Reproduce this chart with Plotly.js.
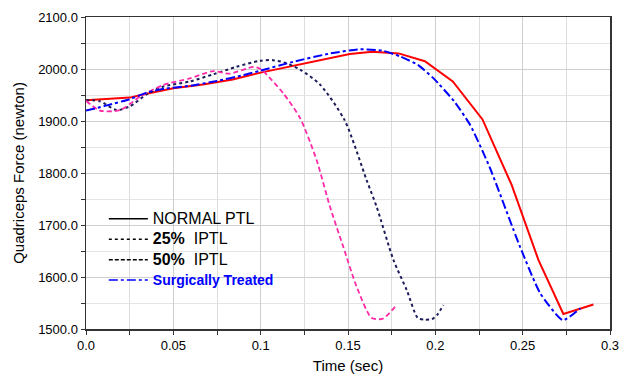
<!DOCTYPE html>
<html>
<head>
<meta charset="utf-8">
<script src="https://cdn.plot.ly/plotly-3.0.1.min.js"></script>
<style>html,body{margin:0;padding:0;background:#fff}#chart{width:628px;height:374px}</style>
</head>
<body>
<div id="chart"></div>
<script>
// NORMAL PTL (red solid)
var normalT = [0, 0.017, 0.025, 0.034, 0.05, 0.067, 0.084, 0.1, 0.117, 0.134, 0.151, 0.164, 0.179, 0.194, 0.210, 0.227, 0.2437, 0.259, 0.2733, 0.2905];
var normalF = [1940, 1943, 1945, 1952, 1963, 1970, 1980, 1993, 2005, 2018, 2029, 2033, 2030, 2015, 1976, 1903, 1777, 1633, 1529, 1547];
// 25% IPTL (navy dotted)
var p25T = [0, 0.008, 0.0175, 0.025, 0.035, 0.044, 0.0595, 0.073, 0.086, 0.0996, 0.107, 0.114, 0.1225, 0.134, 0.148, 0.1607, 0.1664, 0.176, 0.1836, 0.19, 0.194, 0.198, 0.201, 0.2046];
var p25F = [1940, 1938, 1921, 1928, 1952, 1966, 1976, 1990, 2004, 2016, 2017, 2012, 1999, 1970, 1902, 1786, 1735, 1633, 1575, 1521, 1518, 1519, 1527, 1546];
// 50% IPTL (pink dashed)
var p50T = [0, 0.008, 0.0195, 0.031, 0.044, 0.0595, 0.073, 0.082, 0.096, 0.1, 0.106, 0.113, 0.1225, 0.132, 0.1397, 0.1473, 0.155, 0.1636, 0.170, 0.177];
var p50F = [1939, 1920, 1921, 1947, 1969, 1982, 1996, 1991, 2004, 2000, 1980, 1953, 1906, 1825, 1735, 1658, 1581, 1521, 1520, 1543];
// Surgically Treated (blue dash-dot)
var surgT = [0, 0.012, 0.025, 0.035, 0.045, 0.06, 0.075, 0.09, 0.1, 0.12, 0.14, 0.157, 0.17, 0.18, 0.19, 0.199, 0.211, 0.22, 0.231, 0.2485, 0.26, 0.273, 0.283];
var surgF = [1920, 1930, 1942, 1955, 1962, 1968, 1977, 1988, 1997, 2015, 2030, 2038, 2035, 2024, 2008, 1982, 1937, 1892, 1812, 1658, 1569, 1517, 1540];

var legendNames = [
  '<span style="font-size:16px">NORMAL PTL</span>',
  '<span style="font-size:16px"><b>25%</b>  IPTL</span>',
  '<span style="font-size:16px"><b>50%</b>  IPTL</span>',
  '<span style="color:#0000ff;font-size:14px"><b>Surgically Treated</b></span>'
];
var xTickVals = [0, 0.05, 0.1, 0.15, 0.2, 0.25, 0.3];
var xTickText = ['0.0', '0.05', '0.1', '0.15', '0.2', '0.25', '0.3'];

var traces = [
  {x: normalT, y: normalF, mode: 'lines', line: {color: '#ff0000', width: 2}, showlegend: false, hoverinfo: 'skip'},
  {x: p25T, y: p25F, mode: 'lines', line: {color: '#1c1c5a', width: 2, dash: 'dot', shape: 'spline', smoothing: 0.7}, showlegend: false, hoverinfo: 'skip'},
  {x: p50T, y: p50F, mode: 'lines', line: {color: '#ff2aa8', width: 1.8, dash: '5px,3px', shape: 'spline', smoothing: 0.7}, showlegend: false, hoverinfo: 'skip'},
  {x: surgT, y: surgF, mode: 'lines', line: {color: '#0000ff', width: 2, dash: 'dashdot', shape: 'spline', smoothing: 0.5}, showlegend: false, hoverinfo: 'skip'},
  {x: [null], y: [null], mode: 'lines', name: legendNames[0], line: {color: '#000', width: 1.5}},
  {x: [null], y: [null], mode: 'lines', name: legendNames[1], line: {color: '#000', width: 1.5, dash: 'dot'}},
  {x: [null], y: [null], mode: 'lines', name: legendNames[2], line: {color: '#000', width: 1.5, dash: '4px,2px'}},
  {x: [null], y: [null], mode: 'lines', name: legendNames[3], line: {color: '#0000ff', width: 1.5, dash: 'dashdot'}}
];

var font = 'Arial, "Liberation Sans", sans-serif';
var layout = {
  width: 628, height: 374,
  margin: {l: 86, r: 18, t: 17, b: 45},
  paper_bgcolor: '#fff', plot_bgcolor: '#fff',
  font: {family: font, color: '#000', size: 13},
  showlegend: true,
  legend: {x: 0.034, y: 0.402, xanchor: 'left', yanchor: 'top', bgcolor: 'rgba(0,0,0,0)', font: {size: 13.4, family: font}, tracegroupgap: 0, itemwidth: 39},
  xaxis: {
    range: [0, 0.3], tickvals: xTickVals, ticktext: xTickText,
    showgrid: true, gridcolor: '#cfcfcf', gridwidth: 1,
    ticks: 'outside', ticklen: 4, tickcolor: '#333',
    showline: true, mirror: true, linecolor: '#333', linewidth: 1.5, zeroline: false,
    minor: {dtick: 0.025, tick0: 0, ticks: 'outside', ticklen: 4, tickcolor: '#333', showgrid: true, gridcolor: '#dedede'},
    tickfont: {size: 13, family: font},
    title: {text: 'Time (sec)', font: {size: 15, family: font}, standoff: 8}
  },
  yaxis: {
    range: [1500, 2100], dtick: 100, tick0: 1500, tickformat: '.1f',
    showgrid: true, gridcolor: '#cfcfcf', gridwidth: 1,
    ticks: 'outside', ticklen: 4, tickcolor: '#333',
    showline: true, mirror: true, linecolor: '#333', linewidth: 1.5, zeroline: false,
    minor: {dtick: 50, tick0: 1500, ticks: 'outside', ticklen: 4, tickcolor: '#333', showgrid: true, gridcolor: '#e4e4e4'},
    tickfont: {size: 13, family: font},
    title: {text: 'Quadriceps Force (newton)', font: {size: 15, family: font}, standoff: 10}
  }
};
Plotly.newPlot('chart', traces, layout, {staticPlot: true, displayModeBar: false});
</script>
</body>
</html>
